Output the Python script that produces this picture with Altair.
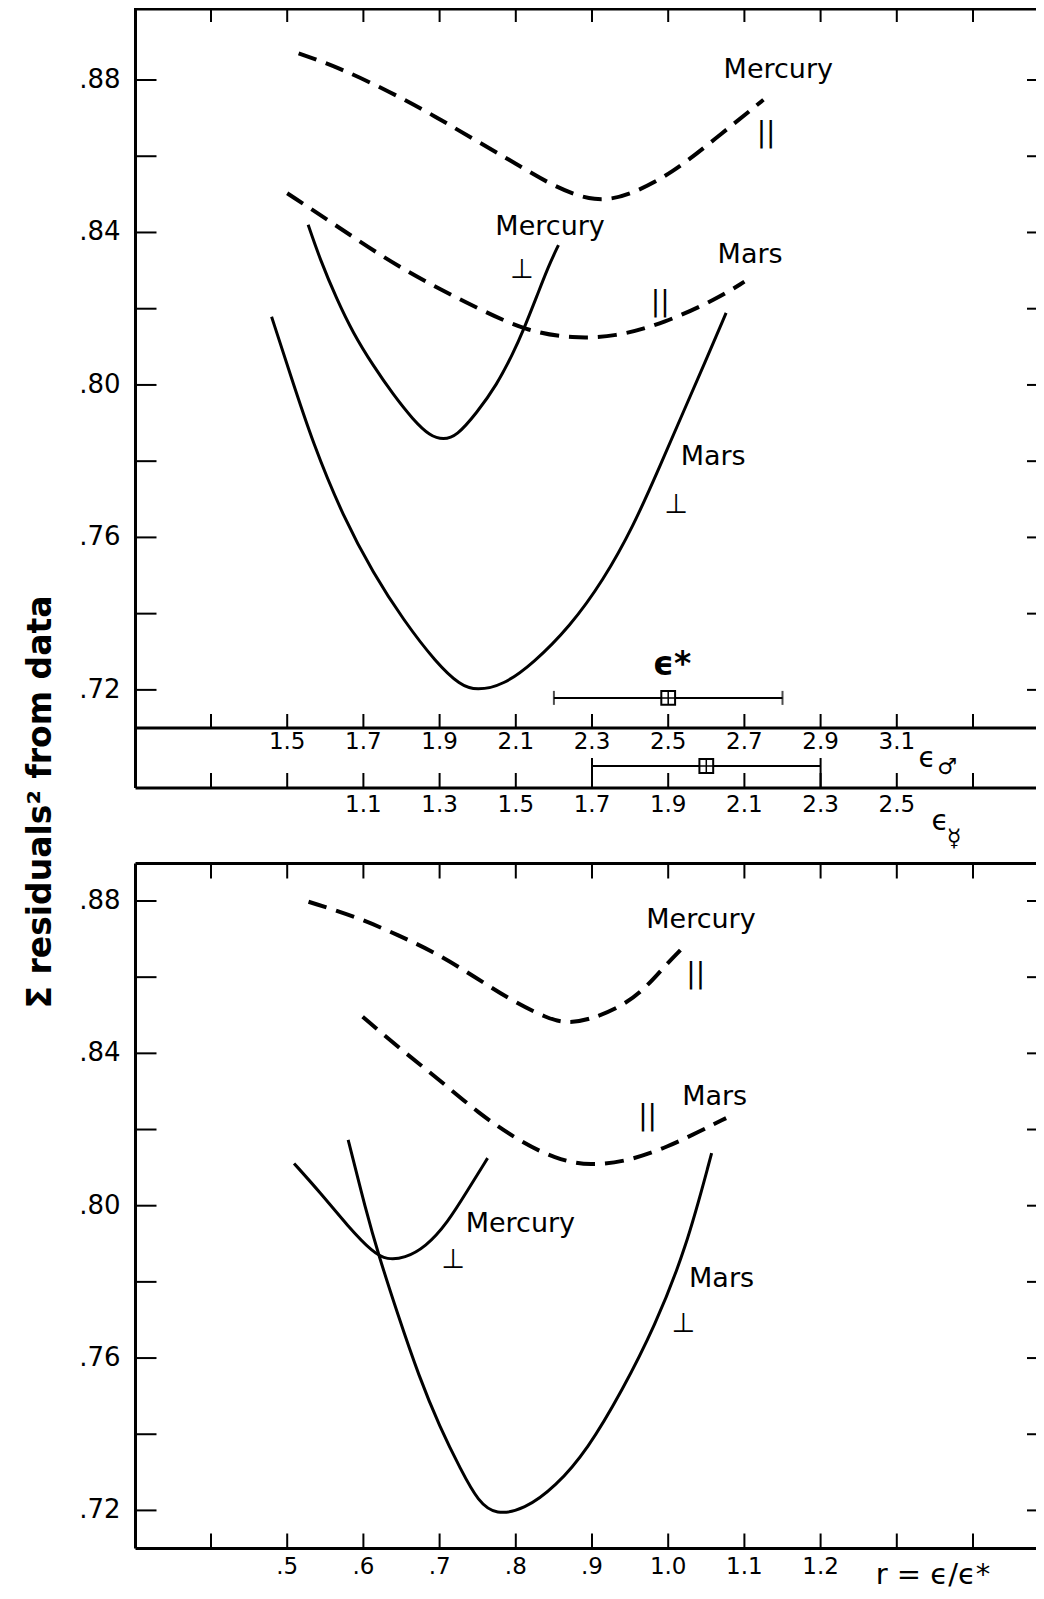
import altair as alt
import pandas as pd

FONT = "DejaVu Sans"

# ---------------- data ----------------
# Top panel: Mercury curves on the eps_mercury axis, Mars curves on the eps_mars axis
MERC_PAR_EPS = [0.93, 1.03, 1.17, 1.29, 1.40, 1.50, 1.60, 1.71, 1.80, 1.91, 2.02, 2.15]
MERC_PAR_RES = [0.8870, 0.8835, 0.8769, 0.8704, 0.8638, 0.8581, 0.8520, 0.8478, 0.8498, 0.8555, 0.8643, 0.8748]

MARS_PAR_EPS = [1.50, 1.62, 1.75, 1.87, 2.00, 2.13, 2.25, 2.36, 2.49, 2.63, 2.70]
MARS_PAR_RES = [0.8503, 0.8424, 0.8336, 0.8267, 0.8201, 0.8140, 0.8122, 0.8126, 0.8162, 0.8227, 0.8271]

MERC_PERP_EPS = [0.955, 0.986, 1.030, 1.073, 1.126, 1.178, 1.231, 1.275, 1.310, 1.345, 1.397,
                 1.450, 1.493, 1.520, 1.555, 1.585, 1.612]
MERC_PERP_RES = [0.8420, 0.8330, 0.8225, 0.8136, 0.8050, 0.7975, 0.7908, 0.7866, 0.7856, 0.7866, 0.7926,
                 0.8000, 0.8083, 0.8144, 0.8232, 0.8310, 0.8367]

MARS_PERP_EPS = [1.459, 1.507, 1.568, 1.647, 1.726, 1.805, 1.892, 1.954, 1.997, 2.067, 2.146, 2.242,
                 2.330, 2.408, 2.478, 2.540, 2.597, 2.652]
MARS_PERP_RES = [0.8179, 0.8031, 0.7845, 0.7654, 0.7506, 0.7383, 0.7270, 0.7212, 0.7198, 0.7212, 0.7270,
                 0.7366, 0.7488, 0.7628, 0.7786, 0.7930, 0.8060, 0.8189]

# Bottom panel: r = eps / eps*
MERC_PAR_R = [0.528, 0.590, 0.645, 0.696, 0.746, 0.793, 0.843, 0.866, 0.894, 0.940, 0.972, 0.995, 1.016]
MERC_PAR_RES2 = [0.8798, 0.8759, 0.8711, 0.8663, 0.8601, 0.8540, 0.8490, 0.8480, 0.8486, 0.8523, 0.8575, 0.8628, 0.8671]

MARS_PAR_R = [0.599, 0.650, 0.700, 0.751, 0.802, 0.852, 0.898, 0.949, 1.000, 1.041, 1.076]
MARS_PAR_RES2 = [0.8496, 0.8409, 0.8330, 0.8243, 0.8173, 0.8122, 0.8104, 0.8118, 0.8155, 0.8195, 0.8230]

MERC_PERP_R = [0.509, 0.544, 0.580, 0.613, 0.631, 0.654, 0.682, 0.710, 0.737, 0.763]
MERC_PERP_RES2 = [0.8111, 0.8033, 0.7945, 0.7876, 0.7858, 0.7862, 0.7892, 0.7954, 0.8041, 0.8125]

MARS_PERP_R = [0.580, 0.603, 0.620, 0.645, 0.673, 0.700, 0.728, 0.751, 0.774, 0.811, 0.852, 0.894,
               0.940, 0.982, 1.023, 1.057]
MARS_PERP_RES2 = [0.8173, 0.7990, 0.7870, 0.7715, 0.7551, 0.7420, 0.7306, 0.7222, 0.7188, 0.7202, 0.7262,
                  0.7359, 0.7516, 0.7682, 0.7884, 0.8138]

# eps* estimates with ranges
EPS_STAR_MARS = [2.5]
EPS_STAR_MARS_LO = [2.2]
EPS_STAR_MARS_HI = [2.8]
EPS_STAR_MARS_Y = [0.7179]
EPS_STAR_MERC = [2.0]
EPS_STAR_MERC_LO = [1.7]
EPS_STAR_MERC_HI = [2.3]

# axis ticks and labels
Y_TICKS = [0.72, 0.74, 0.76, 0.78, 0.80, 0.82, 0.84, 0.86, 0.88]
Y_LABEL_VALUES = [0.72, 0.76, 0.80, 0.84, 0.88]
Y_LABELS = [".72", ".76", ".80", ".84", ".88"]
MARS_TICKS = [1.3, 1.5, 1.7, 1.9, 2.1, 2.3, 2.5, 2.7, 2.9, 3.1, 3.3]
MARS_LABEL_VALUES = [1.5, 1.7, 1.9, 2.1, 2.3, 2.5, 2.7, 2.9, 3.1]
MARS_LABELS = ["1.5", "1.7", "1.9", "2.1", "2.3", "2.5", "2.7", "2.9", "3.1"]
MERC_TICKS = [0.7, 0.9, 1.1, 1.3, 1.5, 1.7, 1.9, 2.1, 2.3, 2.5, 2.7]
MERC_LABEL_VALUES = [1.1, 1.3, 1.5, 1.7, 1.9, 2.1, 2.3, 2.5]
MERC_LABELS = ["1.1", "1.3", "1.5", "1.7", "1.9", "2.1", "2.3", "2.5"]
R_TICKS = [0.4, 0.5, 0.6, 0.7, 0.8, 0.9, 1.0, 1.1, 1.2, 1.3, 1.4]
R_LABEL_VALUES = [0.5, 0.6, 0.7, 0.8, 0.9, 1.0, 1.1, 1.2]
R_LABELS = [".5", ".6", ".7", ".8", ".9", "1.0", "1.1", "1.2"]

# curve annotations (top panel in eps_mars units, bottom panel in r units)
TOP_NAMES = ["Mercury", "Mercury", "Mars", "Mars"]
TOP_NAME_X = [2.789, 2.190, 2.715, 2.618]
TOP_NAME_Y = [0.8805, 0.8393, 0.8320, 0.7790]
TOP_PAR_X = [2.757, 2.479]
TOP_PAR_Y = [0.8658, 0.8215]
TOP_PERP_X = [2.116, 2.521]
TOP_PERP_Y = [0.8281, 0.7664]
STAR_LABEL_X = [2.51]
STAR_LABEL_Y = [0.7238]

BOT_NAMES = ["Mercury", "Mars", "Mercury", "Mars"]
BOT_NAME_X = [1.043, 1.061, 0.806, 1.070]
BOT_NAME_Y = [0.8729, 0.8264, 0.7931, 0.7787]
BOT_PAR_X = [1.036, 0.973]
BOT_PAR_Y = [0.8606, 0.8234]
BOT_PERP_X = [0.718, 1.020]
BOT_PERP_Y = [0.7836, 0.7668]

Y_TITLE = "\u03a3 residuals\u00b2 from data"

# ---------------- scales (pixel ranges inside one canvas) ----------------
W, H = 1028, 1583
XR = [126.8, 1041.2]
X_MARS = alt.Scale(domain=[1.1, 3.5], range=XR, zero=False, nice=False)
X_MERC = alt.Scale(domain=[0.5, 2.9], range=XR, zero=False, nice=False)
X_R = alt.Scale(domain=[0.3, 1.5], range=XR, zero=False, nice=False)
Y_TOP = alt.Scale(domain=[0.71, 0.90], range=[720.0, -4.24], zero=False, nice=False)
Y_BOT = alt.Scale(domain=[0.71, 0.89], range=[1540.5, 854.9], zero=False, nice=False)

LEFT = 127.5
TOP_STRIP1 = 720.0
TOP_STRIP2 = 780.0
BOT_TOP = 855.5
BOT_BOTTOM = 1540.5

layers = []


def frame(x1, x2, y1, y2, sw=3):
    return alt.Chart(pd.DataFrame({"a": [0]})).mark_rule(color="black", strokeWidth=sw).encode(
        x=alt.value(x1), x2=alt.value(x2), y=alt.value(y1), y2=alt.value(y2))


def xticks(vals, scale, y1, y2):
    return alt.Chart(pd.DataFrame({"v": vals})).mark_rule(color="black", strokeWidth=2).encode(
        x=alt.X("v:Q", scale=scale, axis=None), y=alt.value(y1), y2=alt.value(y2))


def yticks(vals, scale, x1, x2):
    return alt.Chart(pd.DataFrame({"v": vals})).mark_rule(color="black", strokeWidth=2).encode(
        y=alt.Y("v:Q", scale=scale, axis=None), x=alt.value(x1), x2=alt.value(x2))


def xlabels(vals, labels, scale, y, size=23):
    return alt.Chart(pd.DataFrame({"v": vals, "t": labels})).mark_text(
        font=FONT, fontSize=size, color="black", baseline="middle", align="center").encode(
        x=alt.X("v:Q", scale=scale, axis=None), y=alt.value(y), text="t:N")


def ylabels(vals, labels, scale, x, size=26):
    return alt.Chart(pd.DataFrame({"v": vals, "t": labels})).mark_text(
        font=FONT, fontSize=size, color="black", baseline="middle", align="right").encode(
        y=alt.Y("v:Q", scale=scale, axis=None), x=alt.value(x), text="t:N")


def curve(xv, yv, xscale, yscale, dashed):
    df = pd.DataFrame({"x": xv, "y": yv})
    if dashed:
        mk = alt.Chart(df).mark_line(color="black", strokeWidth=4, strokeDash=[19, 10],
                                     interpolate="basis", strokeCap="butt")
    else:
        mk = alt.Chart(df).mark_line(color="black", strokeWidth=3, interpolate="basis")
    return mk.encode(x=alt.X("x:Q", scale=xscale, axis=None), y=alt.Y("y:Q", scale=yscale, axis=None),
                     order=alt.Order("x:Q"))


def notes(xv, yv, texts, xscale, yscale, size, baseline, weight="normal"):
    df = pd.DataFrame({"x": xv, "y": yv, "t": texts})
    return alt.Chart(df).mark_text(font=FONT, fontSize=size, color="black", baseline=baseline,
                                   align="center", fontWeight=weight).encode(
        x=alt.X("x:Q", scale=xscale, axis=None), y=alt.Y("y:Q", scale=yscale, axis=None), text="t:N")


def fixed_text(t, x, y, size, weight="normal", angle=0, align="center", baseline="middle"):
    return alt.Chart(pd.DataFrame({"t": [t]})).mark_text(
        font=FONT, fontSize=size, color="black", fontWeight=weight, angle=angle,
        align=align, baseline=baseline).encode(x=alt.value(x), y=alt.value(y), text="t:N")


# ---------------- top panel frame & axes ----------------
layers += [
    frame(LEFT, LEFT, 0, TOP_STRIP2),
    frame(LEFT, W, 1, 1),
    frame(LEFT, W, TOP_STRIP1, TOP_STRIP1),
    frame(LEFT, W, TOP_STRIP2, TOP_STRIP2),
    yticks(Y_TICKS, Y_TOP, LEFT, LEFT + 21),
    yticks(Y_TICKS, Y_TOP, W - 9, W),
    ylabels(Y_LABEL_VALUES, Y_LABELS, Y_TOP, LEFT - 15),
    xticks(MARS_TICKS, X_MARS, 0, 14),
    xticks(MARS_TICKS, X_MARS, TOP_STRIP1 - 14, TOP_STRIP1),
    xticks(MERC_TICKS, X_MERC, TOP_STRIP2 - 15, TOP_STRIP2),
    xlabels(MARS_LABEL_VALUES, MARS_LABELS, X_MARS, 734),
    xlabels(MERC_LABEL_VALUES, MERC_LABELS, X_MERC, 797),
    fixed_text("\u03f5", 919, 751, 28),
    fixed_text("\u2642", 939, 759, 22),
    fixed_text("\u03f5", 932, 814, 28),
    fixed_text("\u263f", 946, 831, 24),
]

# ---------------- top panel curves ----------------
layers += [
    curve(MERC_PAR_EPS, MERC_PAR_RES, X_MERC, Y_TOP, True),
    curve(MARS_PAR_EPS, MARS_PAR_RES, X_MARS, Y_TOP, True),
    curve(MERC_PERP_EPS, MERC_PERP_RES, X_MERC, Y_TOP, False),
    curve(MARS_PERP_EPS, MARS_PERP_RES, X_MARS, Y_TOP, False),
    notes(TOP_NAME_X, TOP_NAME_Y, TOP_NAMES, X_MARS, Y_TOP, 27, "alphabetic"),
    notes(TOP_PAR_X, TOP_PAR_Y, ["||"] * len(TOP_PAR_X), X_MARS, Y_TOP, 28, "middle"),
    notes(TOP_PERP_X, TOP_PERP_Y, ["\u22a5"] * len(TOP_PERP_X), X_MARS, Y_TOP, 27, "alphabetic"),
    notes(STAR_LABEL_X, STAR_LABEL_Y, ["\u03f5*"], X_MARS, Y_TOP, 33, "alphabetic", "bold"),
]

# eps* error bars
star_mars = pd.DataFrame({"c": EPS_STAR_MARS, "lo": EPS_STAR_MARS_LO, "hi": EPS_STAR_MARS_HI, "y": EPS_STAR_MARS_Y})
star_merc = pd.DataFrame({"c": EPS_STAR_MERC, "lo": EPS_STAR_MERC_LO, "hi": EPS_STAR_MERC_HI})
ym = alt.Y("y:Q", scale=Y_TOP, axis=None)
layers += [
    alt.Chart(star_mars).mark_rule(color="black", strokeWidth=2).encode(
        x=alt.X("lo:Q", scale=X_MARS, axis=None), x2="hi:Q", y=ym),
    alt.Chart(star_mars).transform_fold(["lo", "hi"], as_=["k", "e"]).mark_tick(
        color="black", orient="vertical", size=14, thickness=2).encode(
        x=alt.X("e:Q", scale=X_MARS, axis=None), y=ym),
    alt.Chart(star_mars).mark_point(shape="square", size=190, filled=True, fill="white",
                                    stroke="black", strokeWidth=2, opacity=1).encode(
        x=alt.X("c:Q", scale=X_MARS, axis=None), y=ym),
    alt.Chart(star_mars).mark_point(shape="M-1,0L1,0M0,-1L0,1", size=190, filled=False,
                                    stroke="black", strokeWidth=1.5, opacity=1).encode(
        x=alt.X("c:Q", scale=X_MARS, axis=None), y=ym),
    alt.Chart(star_merc).mark_rule(color="black", strokeWidth=2).encode(
        x=alt.X("lo:Q", scale=X_MERC, axis=None), x2="hi:Q", y=alt.value(758)),
    alt.Chart(star_merc).transform_fold(["lo", "hi"], as_=["k", "e"]).mark_rule(
        color="black", strokeWidth=2).encode(
        x=alt.X("e:Q", scale=X_MERC, axis=None), y=alt.value(750), y2=alt.value(TOP_STRIP2)),
    alt.Chart(star_merc).mark_point(shape="square", size=190, filled=True, fill="white",
                                    stroke="black", strokeWidth=2, opacity=1).encode(
        x=alt.X("c:Q", scale=X_MERC, axis=None), y=alt.value(758)),
    alt.Chart(star_merc).mark_point(shape="M-1,0L1,0M0,-1L0,1", size=190, filled=False,
                                    stroke="black", strokeWidth=1.5, opacity=1).encode(
        x=alt.X("c:Q", scale=X_MERC, axis=None), y=alt.value(758)),
]

# ---------------- bottom panel ----------------
layers += [
    frame(LEFT, LEFT, BOT_TOP, BOT_BOTTOM),
    frame(LEFT, W, BOT_TOP, BOT_TOP),
    frame(LEFT, W, BOT_BOTTOM, BOT_BOTTOM),
    yticks(Y_TICKS, Y_BOT, LEFT, LEFT + 21),
    yticks(Y_TICKS, Y_BOT, W - 9, W),
    ylabels(Y_LABEL_VALUES, Y_LABELS, Y_BOT, LEFT - 15),
    xticks(R_TICKS, X_R, BOT_TOP, BOT_TOP + 15),
    xticks(R_TICKS, X_R, BOT_BOTTOM - 15, BOT_BOTTOM),
    xlabels(R_LABEL_VALUES, R_LABELS, X_R, 1559),
    fixed_text("r = \u03f5/\u03f5*", 925, 1576, 29, baseline="alphabetic"),
    curve(MERC_PAR_R, MERC_PAR_RES2, X_R, Y_BOT, True),
    curve(MARS_PAR_R, MARS_PAR_RES2, X_R, Y_BOT, True),
    curve(MERC_PERP_R, MERC_PERP_RES2, X_R, Y_BOT, False),
    curve(MARS_PERP_R, MARS_PERP_RES2, X_R, Y_BOT, False),
    notes(BOT_NAME_X, BOT_NAME_Y, BOT_NAMES, X_R, Y_BOT, 27, "alphabetic"),
    notes(BOT_PAR_X, BOT_PAR_Y, ["||"] * len(BOT_PAR_X), X_R, Y_BOT, 28, "middle"),
    notes(BOT_PERP_X, BOT_PERP_Y, ["\u22a5"] * len(BOT_PERP_X), X_R, Y_BOT, 27, "alphabetic"),
]

# shared y title
layers.append(fixed_text(Y_TITLE, 33, 794, 33, weight="bold", angle=270))

chart = alt.layer(*layers).resolve_scale(x="independent", y="independent").properties(
    width=W, height=H, autosize=alt.AutoSizeParams(type="none"), padding=0
).configure_view(stroke=None)

chart.save("out.html", embed_options={"renderer": "svg", "actions": False})
